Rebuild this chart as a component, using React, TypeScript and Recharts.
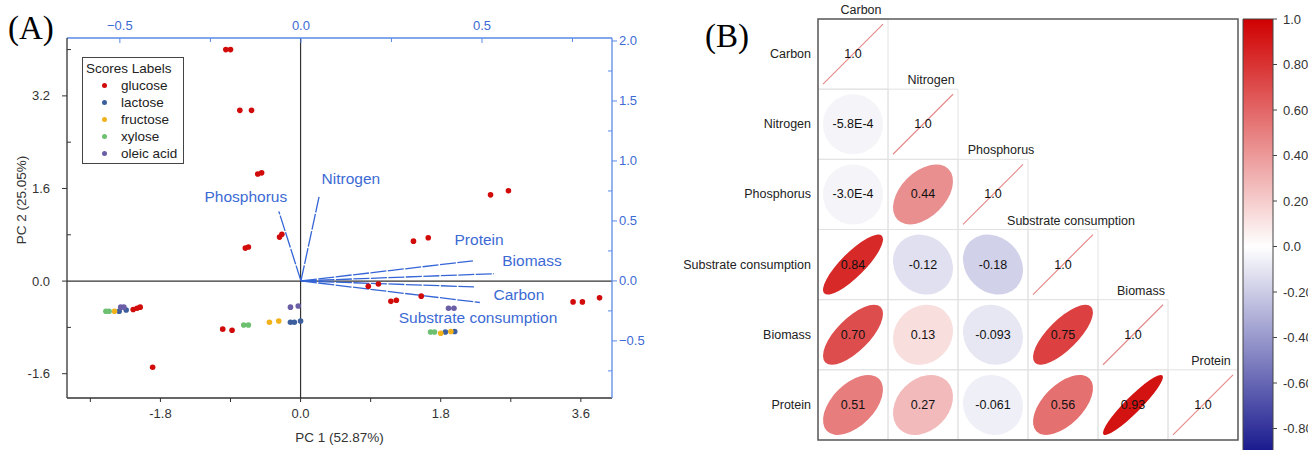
import React from "react";
import {
  ScatterChart,
  Scatter,
  XAxis,
  YAxis,
  ReferenceLine,
  ReferenceArea,
  Legend,
} from "recharts";

const FONT = "'Liberation Sans', Arial, sans-serif";
const SERIF = "'Liberation Serif', 'Times New Roman', serif";
const AXIS_BLUE = "#5a8ae6";
const TEXT_BLUE = "#3c6ad4";
const VECTOR_BLUE = "#3565d6";
const DARK = "#333333";

// ---------- panel A: PCA scores (PC1, PC2) ----------
const GLUCOSE = [
  { x: -0.96, y: 4.0 }, { x: -0.9, y: 4.0 }, { x: -0.78, y: 2.95 }, { x: -0.63, y: 2.95 },
  { x: -0.55, y: 1.85 }, { x: -0.5, y: 1.87 }, { x: -0.71, y: 0.57 }, { x: -0.67, y: 0.59 },
  { x: -0.27, y: 0.76 }, { x: -0.24, y: 0.81 }, { x: -2.15, y: -0.49 }, { x: -2.1, y: -0.47 },
  { x: -2.06, y: -0.45 }, { x: -1.9, y: -1.49 }, { x: -1.0, y: -0.83 }, { x: -0.88, y: -0.85 },
  { x: 1.45, y: 0.69 }, { x: 1.64, y: 0.75 }, { x: 0.87, y: -0.09 }, { x: 1.0, y: -0.05 },
  { x: 1.16, y: -0.35 }, { x: 1.23, y: -0.33 }, { x: 1.55, y: -0.26 }, { x: 3.5, y: -0.36 },
  { x: 3.62, y: -0.36 }, { x: 3.84, y: -0.29 }, { x: 2.44, y: 1.49 }, { x: 2.67, y: 1.56 },
];
const LACTOSE = [
  { x: -2.33, y: -0.52 }, { x: -2.24, y: -0.5 }, { x: -0.13, y: -0.71 }, { x: -0.08, y: -0.71 },
  { x: 0.0, y: -0.69 }, { x: 1.86, y: -0.88 }, { x: 1.98, y: -0.87 },
];
const FRUCTOSE = [
  { x: -2.39, y: -0.52 }, { x: -0.4, y: -0.71 }, { x: -0.28, y: -0.69 }, { x: 1.8, y: -0.9 },
  { x: 1.93, y: -0.87 },
];
const XYLOSE = [
  { x: -2.5, y: -0.52 }, { x: -2.46, y: -0.52 }, { x: -0.73, y: -0.76 }, { x: -0.67, y: -0.76 },
  { x: 1.67, y: -0.88 }, { x: 1.72, y: -0.88 },
];
const OLEIC = [
  { x: -2.31, y: -0.45 }, { x: -2.27, y: -0.45 }, { x: -0.13, y: -0.45 }, { x: -0.03, y: -0.43 },
  { x: 1.9, y: -0.47 }, { x: 1.97, y: -0.47 },
];

const SERIES = [
  { name: "glucose", color: "#d10a0a", data: GLUCOSE },
  { name: "lactose", color: "#3d5f9e", data: LACTOSE },
  { name: "fructose", color: "#f2b21c", data: FRUCTOSE },
  { name: "xylose", color: "#6cc070", data: XYLOSE },
  { name: "oleic acid", color: "#6a5ea6", data: OLEIC },
];

// loadings (top / right axes)
const LOADINGS = [
  { name: "Nitrogen", x: 0.05, y: 0.7 },
  { name: "Phosphorus", x: -0.061, y: 0.58 },
  { name: "Protein", x: 0.475, y: 0.167 },
  { name: "Biomass", x: 0.533, y: 0.06 },
  { name: "Carbon", x: 0.478, y: -0.05 },
  { name: "Substrate consumption", x: 0.494, y: -0.18 },
];
// where each loading's name sits (loading units)
const LOADING_LABELS = [
  { name: "Nitrogen", x: 0.138, y: 0.852 },
  { name: "Phosphorus", x: -0.152, y: 0.702 },
  { name: "Protein", x: 0.492, y: 0.343 },
  { name: "Biomass", x: 0.638, y: 0.167 },
  { name: "Carbon", x: 0.602, y: -0.117 },
  { name: "Substrate consumption", x: 0.489, y: -0.309 },
];

const PC1_TICKS = [-2.7, -1.8, -0.9, 0, 0.9, 1.8, 2.7, 3.6];
const PC1_MAJOR = [-1.8, 0, 1.8, 3.6];
const PC2_TICKS = [-1.6, -0.8, 0, 0.8, 1.6, 2.4, 3.2, 4.0];
const PC2_MAJOR = [-1.6, 0, 1.6, 3.2];
const LOAD_X_TICKS = [-0.5, -0.25, 0, 0.25, 0.5, 0.75];
const LOAD_X_MAJOR = [-0.5, 0, 0.5];
const LOAD_Y_TICKS = [-0.75, -0.5, -0.25, 0, 0.25, 0.5, 0.75, 1.0, 1.25, 1.5, 1.75, 2.0];
const LOAD_Y_MAJOR = [-0.5, 0, 0.5, 1.0, 1.5, 2.0];

// ---------- panel B: correlation matrix ----------
const VARS = ["Carbon", "Nitrogen", "Phosphorus", "Substrate consumption", "Biomass", "Protein"];
const CORR_ROWS = [
  [1.0],
  [-0.00058, 1.0],
  [-0.0003, 0.44, 1.0],
  [0.84, -0.12, -0.18, 1.0],
  [0.7, 0.13, -0.093, 0.75, 1.0],
  [0.51, 0.27, -0.061, 0.56, 0.93, 1.0],
];
const CBAR_TICKS = [1.0, 0.8, 0.6, 0.4, 0.2, 0, -0.2, -0.4, -0.6, -0.8];

const CELLS = CORR_ROWS.flatMap((row, r) =>
  row.map((v, c) => ({ x: c + 0.5, y: r + 0.5, col: c, row: r, r: v }))
);
const CBAR_POINTS = CBAR_TICKS.map((v) => ({ x: 0.5, y: v }));

const isIn = (list: number[], v: number) => list.some((m) => Math.abs(m - v) < 1e-9);
const fmt1 = (v: number) => (Math.abs(v) < 1e-9 ? "0.0" : v.toFixed(1));

function corrColor(v: number): string {
  const t = Math.max(0.045, Math.min(1, Math.abs(v)));
  const end = v >= 0 ? [208, 0, 0] : [0, 0, 130];
  const c = end.map((e) => Math.round(255 + (e - 255) * t));
  return `rgb(${c[0]},${c[1]},${c[2]})`;
}

function corrText(v: number): string {
  if (v === 1) return "1.0";
  if (Math.abs(v) < 0.001) return v.toExponential(1).toUpperCase();
  return v.toPrecision(2);
}

function BottomTick(props: any) {
  const { x, y, payload } = props;
  const major = isIn(PC1_MAJOR, payload.value);
  return (
    <g>
      <line x1={x} x2={x} y1={y} y2={y + 4} stroke={DARK} />
      {major && (
        <text x={x} y={y + 20} textAnchor="middle" fontSize={13} fill={DARK} fontFamily={FONT}>
          {fmt1(payload.value)}
        </text>
      )}
    </g>
  );
}

function LeftTick(props: any) {
  const { x, y, payload } = props;
  const major = isIn(PC2_MAJOR, payload.value);
  return (
    <g>
      <line x1={x} x2={major ? x - 5 : x + 4} y1={y} y2={y} stroke={DARK} />
      {major && (
        <text x={x - 17} y={y + 4.5} textAnchor="end" fontSize={13} fill={DARK} fontFamily={FONT}>
          {fmt1(payload.value)}
        </text>
      )}
    </g>
  );
}

function TopTick(props: any) {
  const { x, y, payload } = props;
  const major = isIn(LOAD_X_MAJOR, payload.value);
  return (
    <g>
      <line x1={x} x2={x} y1={y} y2={y + (major ? 5 : 4)} stroke={AXIS_BLUE} />
      {major && (
        <text x={x} y={y - 8} textAnchor="middle" fontSize={13} fill={TEXT_BLUE} fontFamily={FONT}>
          {fmt1(payload.value).replace("-", "\u2212")}
        </text>
      )}
    </g>
  );
}

function RightTick(props: any) {
  const { x, y, payload } = props;
  const major = isIn(LOAD_Y_MAJOR, payload.value);
  return (
    <g>
      <line x1={x} x2={major ? x + 5 : x - 4} y1={y} y2={y} stroke={AXIS_BLUE} />
      {major && (
        <text x={x + 7} y={y + 4.5} textAnchor="start" fontSize={13} fill={TEXT_BLUE} fontFamily={FONT}>
          {fmt1(payload.value).replace("-", "\u2212")}
        </text>
      )}
    </g>
  );
}

function RowTick(props: any) {
  const { x, y, payload } = props;
  return (
    <text x={x} y={y} textAnchor="end" dominantBaseline="central" fontSize={12.5} fill="#222" fontFamily={FONT}>
      {VARS[Math.floor(payload.value)]}
    </text>
  );
}

function ScoresLegend() {
  return (
    <div
      style={{
        border: "1.5px solid #444",
        padding: "2px 6px 1px 3px",
        background: "#fff",
        fontFamily: FONT,
        fontSize: 13.5,
        color: "#222",
        lineHeight: "17px",
      }}
    >
      <div>Scores Labels</div>
      {SERIES.map((s) => (
        <div key={s.name} style={{ display: "flex", alignItems: "center" }}>
          <span
            style={{
              display: "inline-block",
              width: 5,
              height: 5,
              borderRadius: 3,
              background: s.color,
              margin: "0 14px 0 16px",
            }}
          />
          <span>{s.name}</span>
        </div>
      ))}
    </div>
  );
}

function PcaPanel() {
  return (
    <ScatterChart width={680} height={450} margin={{ top: 18, right: 28, bottom: 22, left: 27 }}>
      <XAxis
        xAxisId="pc"
        type="number"
        dataKey="x"
        domain={[-3.0, 4.0]}
        allowDataOverflow
        ticks={PC1_TICKS}
        interval={0}
        orientation="bottom"
        height={30}
        tickSize={0}
        tickMargin={0}
        tickLine={false}
        axisLine={{ stroke: DARK, strokeWidth: 1.3 }}
        tick={BottomTick}
        label={{
          content: (p: any) => (
            <text
              x={p.viewBox.x + p.viewBox.width / 2}
              y={p.viewBox.y + 44}
              textAnchor="middle"
              fontSize={13.5}
              fill={DARK}
              fontFamily={FONT}
            >
              PC 1 (52.87%)
            </text>
          ),
        }}
      />
      <XAxis
        xAxisId="ld"
        type="number"
        dataKey="x"
        domain={[-0.646, 0.859]}
        allowDataOverflow
        ticks={LOAD_X_TICKS}
        interval={0}
        orientation="top"
        height={20}
        tickSize={0}
        tickMargin={0}
        tickLine={false}
        axisLine={{ stroke: AXIS_BLUE, strokeWidth: 1.3 }}
        tick={TopTick}
      />
      <YAxis
        yAxisId="pc"
        type="number"
        dataKey="y"
        domain={[-2.02, 4.2]}
        allowDataOverflow
        ticks={PC2_TICKS}
        interval={0}
        width={40}
        tickSize={0}
        tickMargin={0}
        tickLine={false}
        axisLine={{ stroke: DARK, strokeWidth: 1.3 }}
        tick={LeftTick}
        label={{
          content: (p: any) => {
            const cx = 21;
            const cy = p.viewBox.y + p.viewBox.height / 2 - 18;
            return (
              <text
                x={cx}
                y={cy}
                transform={`rotate(-90 ${cx} ${cy})`}
                textAnchor="middle"
                dominantBaseline="central"
                fontSize={13.5}
                fill={DARK}
                fontFamily={FONT}
              >
                PC 2 (25.05%)
              </text>
            );
          },
        }}
      />
      <YAxis
        yAxisId="ld"
        type="number"
        dataKey="y"
        orientation="right"
        domain={[-0.976, 2.025]}
        allowDataOverflow
        ticks={LOAD_Y_TICKS}
        interval={0}
        width={40}
        tickSize={0}
        tickMargin={0}
        tickLine={false}
        axisLine={{ stroke: AXIS_BLUE, strokeWidth: 1.3 }}
        tick={RightTick}
      />
      <ReferenceLine xAxisId="pc" yAxisId="pc" x={0} stroke={DARK} strokeWidth={1.2} />
      <ReferenceLine xAxisId="pc" yAxisId="pc" y={0} stroke={DARK} strokeWidth={1.2} />
      {LOADINGS.map((l) => (
        <ReferenceLine
          key={l.name}
          xAxisId="ld"
          yAxisId="ld"
          segment={[
            { x: 0, y: 0 },
            { x: l.x, y: l.y },
          ]}
          stroke={VECTOR_BLUE}
          strokeWidth={1.3}
          strokeDasharray="16 1.5"
        />
      ))}
      <Scatter
        name="loading labels"
        xAxisId="ld"
        yAxisId="ld"
        data={LOADING_LABELS}
        legendType="none"
        isAnimationActive={false}
        shape={(p: any) => (
          <text
            x={p.cx}
            y={p.cy}
            textAnchor="middle"
            dominantBaseline="central"
            fontSize={15.5}
            fill={TEXT_BLUE}
            fontFamily={FONT}
          >
            {p.payload.name}
          </text>
        )}
      />
      {SERIES.map((s) => (
        <Scatter
          key={s.name}
          name={s.name}
          xAxisId="pc"
          yAxisId="pc"
          data={s.data}
          fill={s.color}
          isAnimationActive={false}
          shape={(p: any) => <circle cx={p.cx} cy={p.cy} r={2.8} fill={s.color} />}
        />
      ))}
      <Legend
        layout="vertical"
        align="center"
        verticalAlign="middle"
        content={() => <ScoresLegend />}
        wrapperStyle={{ left: 82, top: 57, width: "auto", height: "auto" }}
      />
    </ScatterChart>
  );
}

const CELL_R = 30;

function CorrShape(p: any) {
  const { cx, cy, payload } = p;
  const v: number = payload.r;
  const diag = payload.col === payload.row;
  const label = corrText(v);
  if (diag) {
    return (
      <g>
        <line x1={cx - CELL_R} y1={cy + CELL_R} x2={cx + CELL_R} y2={cy - CELL_R} stroke="#e58585" strokeWidth={1.1} />
        <text x={cx} y={cy} textAnchor="middle" dominantBaseline="central" fontSize={12.5} fill="#111" fontFamily={FONT}>
          {label}
        </text>
        <text x={cx + 8} y={cy - 44} textAnchor="middle" dominantBaseline="central" fontSize={12.5} fill="#222" fontFamily={FONT}>
          {VARS[payload.col]}
        </text>
      </g>
    );
  }
  const a = CELL_R * Math.sqrt(1 + Math.abs(v));
  const b = CELL_R * Math.sqrt(1 - Math.abs(v));
  const angle = v >= 0 ? -45 : 45;
  return (
    <g>
      <ellipse cx={cx} cy={cy} rx={a} ry={b} transform={`rotate(${angle} ${cx} ${cy})`} fill={corrColor(v)} />
      <text x={cx} y={cy} textAnchor="middle" dominantBaseline="central" fontSize={12.5} fill="#111" fontFamily={FONT}>
        {label}
      </text>
    </g>
  );
}

function CorrPanel() {
  return (
    <ScatterChart width={565} height={450} margin={{ top: 19, right: 7, bottom: 10, left: 8 }}>
      <XAxis type="number" dataKey="x" domain={[0, 6]} hide />
      <YAxis
        type="number"
        dataKey="y"
        domain={[0, 6]}
        reversed
        ticks={[0.5, 1.5, 2.5, 3.5, 4.5, 5.5]}
        interval={0}
        width={130}
        axisLine={false}
        tickLine={false}
        tickSize={0}
        tickMargin={7}
        tick={RowTick}
      />
      {CELLS.map((c) => (
        <ReferenceArea
          key={`g${c.col}-${c.row}`}
          x1={c.col}
          x2={c.col + 1}
          y1={c.row}
          y2={c.row + 1}
          fill="none"
          stroke="#e2e2e2"
          strokeWidth={1}
        />
      ))}
      <ReferenceArea x1={0} x2={6} y1={0} y2={6} fill="none" stroke="#5a5a5a" strokeWidth={1.5} />
      <Scatter data={CELLS} isAnimationActive={false} shape={CorrShape} />
    </ScatterChart>
  );
}

function ColorBar() {
  return (
    <ScatterChart width={130} height={490} margin={{ top: 19, right: 10, bottom: 16, left: 30 }}>
      <defs>
        <linearGradient id="corrGradient" x1="0" y1="0" x2="0" y2="1">
          <stop offset="0%" stopColor={corrColor(1)} />
          <stop offset="50%" stopColor="#ffffff" />
          <stop offset="100%" stopColor={corrColor(-1)} />
        </linearGradient>
      </defs>
      <XAxis type="number" dataKey="x" domain={[0, 1]} hide />
      <YAxis
        type="number"
        dataKey="y"
        orientation="right"
        domain={[-1, 1]}
        allowDataOverflow
        ticks={CBAR_TICKS}
        interval={0}
        width={60}
        axisLine={false}
        tickSize={4}
        tickMargin={6}
        tickLine={{ stroke: "#444" }}
        tickFormatter={(v: number) => (v === 1 ? "1.0" : Math.abs(v) < 1e-9 ? "0.0" : v.toFixed(2))}
        tick={{ fontSize: 13, fill: "#333", fontFamily: FONT }}
      />
      <ReferenceArea
        x1={0}
        x2={1}
        y1={-1}
        y2={1}
        fill="url(#corrGradient)"
        fillOpacity={1}
        stroke="#444"
        strokeWidth={1}
      />
      <Scatter data={CBAR_POINTS} isAnimationActive={false} legendType="none" shape={() => <g />} />
    </ScatterChart>
  );
}

export default function App() {
  return (
    <div
      style={{
        position: "absolute",
        left: 0,
        top: 0,
        width: 1308,
        height: 450,
        overflow: "hidden",
        background: "#fff",
        fontFamily: FONT,
      }}
    >
      <div style={{ position: "absolute", left: 0, top: 0 }}>
        <PcaPanel />
      </div>
      <div style={{ position: "absolute", left: 680, top: 0 }}>
        <CorrPanel />
      </div>
      <div style={{ position: "absolute", left: 1213, top: 0 }}>
        <ColorBar />
      </div>
      <div style={{ position: "absolute", left: 8, top: 8, fontFamily: SERIF, fontSize: 33, lineHeight: "40px" }}>(A)</div>
      <div style={{ position: "absolute", left: 705, top: 16, fontFamily: SERIF, fontSize: 33, lineHeight: "40px" }}>(B)</div>
    </div>
  );
}
